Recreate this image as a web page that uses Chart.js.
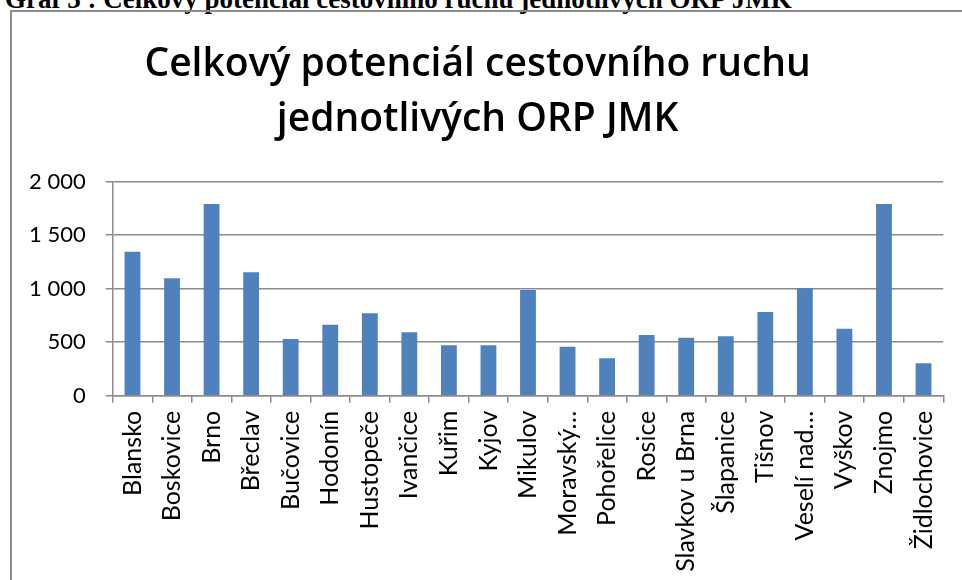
<!DOCTYPE html>
<html>
<head>
<meta charset="utf-8">
<script src="https://cdn.jsdelivr.net/npm/chart.js@4"></script>
<style>
  body { margin: 0; background: #fff; overflow: hidden; }
  #head {
    position: absolute; left: 5px; top: -15.6px; line-height: 1;
    font: bold 27px "Liberation Serif", "Times New Roman", serif;
    color: #000; white-space: nowrap;
  }
  #frame {
    position: absolute; left: 10px; top: 10px;
    width: 950px; height: 568px;
    border-top: 2px solid #8c8c8c; border-left: 2px solid #8c8c8c;
  }
</style>
</head>
<body>
<div id="head">Graf 3 : Celkový potenciál cestovního ruchu jednotlivých ORP JMK</div>
<div id="frame"><canvas id="myChart" width="950" height="568"></canvas></div>
<script>
const regions = ['Blansko', 'Boskovice', 'Brno', 'Břeclav', 'Bučovice', 'Hodonín', 'Hustopeče',
    'Ivančice', 'Kuřim', 'Kyjov', 'Mikulov', 'Moravský…', 'Pohořelice', 'Rosice',
    'Slavkov u Brna', 'Šlapanice', 'Tišnov', 'Veselí nad…', 'Vyškov', 'Znojmo', 'Židlochovice'];
const potential = [1345, 1097, 1792, 1153, 530, 664, 770, 592, 471, 471, 988, 458, 349, 567,
    542, 555, 782, 1004, 626, 1792, 303];
const yTicks = [0, 500, 1000, 1500, 2000];

const gridColor = '#8c8c8c';

new Chart(document.getElementById('myChart'), {
    type: 'bar',
    data: {
        labels: regions,
        datasets: [{
            data: potential,
            backgroundColor: '#4f81bd',
            barPercentage: 0.4,
            categoryPercentage: 1
        }]
    },
    options: {
        responsive: false,
        animation: false,
        layout: { padding: { left: 0, right: 18.7, top: 0, bottom: 0 } },
        plugins: {
            legend: { display: false },
            tooltip: { enabled: false },
            title: {
                display: true,
                text: ['Celkový potenciál cestovního ruchu', 'jednotlivých ORP JMK'],
                color: '#000',
                font: { family: 'Open Sans', size: 39, weight: 600, lineHeight: 55 / 39 },
                padding: { top: 25.5, bottom: 34.2 }
            }
        },
        scales: {
            x: {
                grid: { drawOnChartArea: false, drawTicks: true, tickLength: 7, color: gridColor, lineWidth: 1.5 },
                border: { color: gridColor, width: 1.5 },
                ticks: {
                    autoSkip: false, maxRotation: 90, minRotation: 90,
                    padding: 8, color: '#000', font: { family: 'Lato', size: 25 }
                },
                afterFit: (scale) => { scale.height = 184.3; }
            },
            y: {
                min: 0, max: 2000,
                afterBuildTicks: (scale) => { scale.ticks = yTicks.map(v => ({ value: v })); },
                grid: { color: gridColor, lineWidth: 1.5, tickLength: 7 },
                border: { color: gridColor, width: 1.5 },
                ticks: {
                    padding: 20, color: '#000', font: { family: 'Lato', size: 22 },
                    callback: (v) => v >= 1000 ? Math.floor(v / 1000) + ' ' + String(v % 1000).padStart(3, '0') : String(v)
                },
                afterFit: (scale) => { scale.width = 100.7; }
            }
        }
    }
});
</script>
</body>
</html>
